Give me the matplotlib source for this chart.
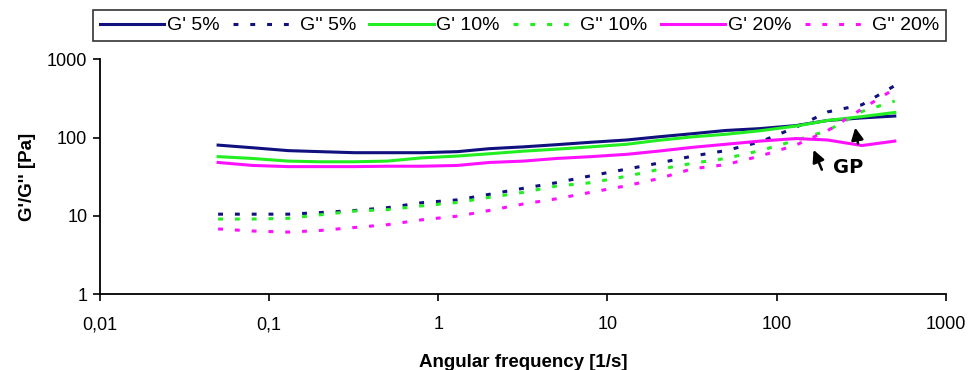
import matplotlib
matplotlib.use("Agg")
import matplotlib.pyplot as plt
from matplotlib.ticker import FixedLocator, NullLocator

plt.rcParams['font.family'] = ['Liberation Sans Narrow', 'Liberation Sans', 'DejaVu Sans']

# angular frequency [1/s]
freq = [0.05, 0.08, 0.13, 0.2, 0.32, 0.5, 0.8, 1.3, 2, 3.2, 5, 8, 13, 20, 32,
        50, 80, 130, 200, 320, 500]

# storage modulus G' [Pa]
g1_5 = [80, 74, 68, 66, 64, 64, 64, 66, 72, 76, 81, 87, 93, 102, 112,
        123, 130, 142, 165, 178, 188]
g1_10 = [57, 54, 50, 49, 49, 50, 55, 58, 62, 67, 71, 76, 82, 92, 102,
         110, 122, 140, 165, 185, 209]
g1_20 = [48, 44, 42.5, 42.5, 42.5, 43, 43, 44, 48, 50, 54, 57, 61, 67, 75,
         82, 90, 97, 93, 79, 90]

# loss modulus G'' [Pa]
g2_5 = [10.5, 10.5, 10.5, 11, 11.7, 12.7, 14.7, 16, 18.8, 22.5, 26.5, 32.5, 39.5, 47, 58,
        68, 88, 135, 212, 262, 460]
g2_10 = [9.1, 9.1, 9.3, 10.3, 11.5, 12, 13.4, 14.8, 17.2, 20, 24, 26.5, 32, 39, 47,
         54, 68, 92, 122, 215, 292]
g2_20 = [6.8, 6.4, 6.2, 6.5, 7.1, 7.7, 8.9, 9.9, 11.7, 14.2, 16.5, 20, 24.2, 29.8, 40,
         45, 58, 80, 122, 232, 420]

series = [
    ("G' 5%", g1_5, '#10107e', '-'),
    ("G'' 5%", g2_5, '#10107e', '--'),
    ("G' 10%", g1_10, '#22ee22', '-'),
    ("G'' 10%", g2_10, '#22ee22', '--'),
    ("G' 20%", g1_20, '#ff11ff', '-'),
    ("G'' 20%", g2_20, '#ff11ff', '--'),
]

xticks = [0.01, 0.1, 1, 10, 100, 1000]
xlabels = ['0,01', '0,1', '1', '10', '100', '1000']
yticks = [1, 10, 100, 1000]
ylabels = ['1', '10', '100', '1000']

fig = plt.figure(figsize=(9.79, 3.70), dpi=100)
ax = fig.add_axes([0.102, 0.205, 0.864, 0.635])

for name, vals, col, ls in series:
    if ls == '-':
        ax.plot(freq, vals, color=col, lw=2.2, ls='-', label=name)
    else:
        ax.plot(freq, vals, color=col, lw=2.2, ls=(0, (1.6, 3.9)), label=name)

ax.set_xscale('log')
ax.set_yscale('log')
ax.set_xlim(0.01, 1000)
ax.set_ylim(1, 1000)
ax.xaxis.set_major_locator(FixedLocator(xticks))
ax.yaxis.set_major_locator(FixedLocator(yticks))
ax.xaxis.set_minor_locator(NullLocator())
ax.yaxis.set_minor_locator(NullLocator())
ax.set_xticklabels(xlabels)
ax.set_yticklabels(ylabels)
ax.tick_params(axis='both', labelsize=13, length=5, width=1.2, direction='out')
ax.tick_params(axis='x', pad=11)
ax.tick_params(axis='y', pad=4)

for s in ['top', 'right']:
    ax.spines[s].set_visible(False)
for s in ['left', 'bottom']:
    ax.spines[s].set_linewidth(1.3)

ax.set_xlabel('Angular frequency [1/s]', fontsize=13.5, fontweight='bold', labelpad=15)
ax.set_ylabel("G'/G'' [Pa]", fontsize=13.5, fontweight='bold', labelpad=8)

# gel point markers
arrow = dict(arrowstyle='-|>', color='black', lw=1.8, mutation_scale=18)
ax.annotate('', xy=(163, 75), xytext=(188, 36), arrowprops=arrow)
ax.annotate('', xy=(290, 145), xytext=(305, 77), arrowprops=arrow)
ax.text(266, 41, 'GP', fontsize=14, fontweight='bold', family='DejaVu Sans',
        ha='center', va='center')

fig.legend(loc='upper left', bbox_to_anchor=(0.095, 0.878, 0.871, 0.095), mode='expand',
           ncol=6, fontsize=14, frameon=True, fancybox=False, edgecolor='black',
           handlelength=3.3, handletextpad=0.15, columnspacing=0.4, borderpad=0.35,
           borderaxespad=0.0)
fig.legends[0].get_frame().set_linewidth(1.2)

fig.savefig('out.png', dpi=100)
